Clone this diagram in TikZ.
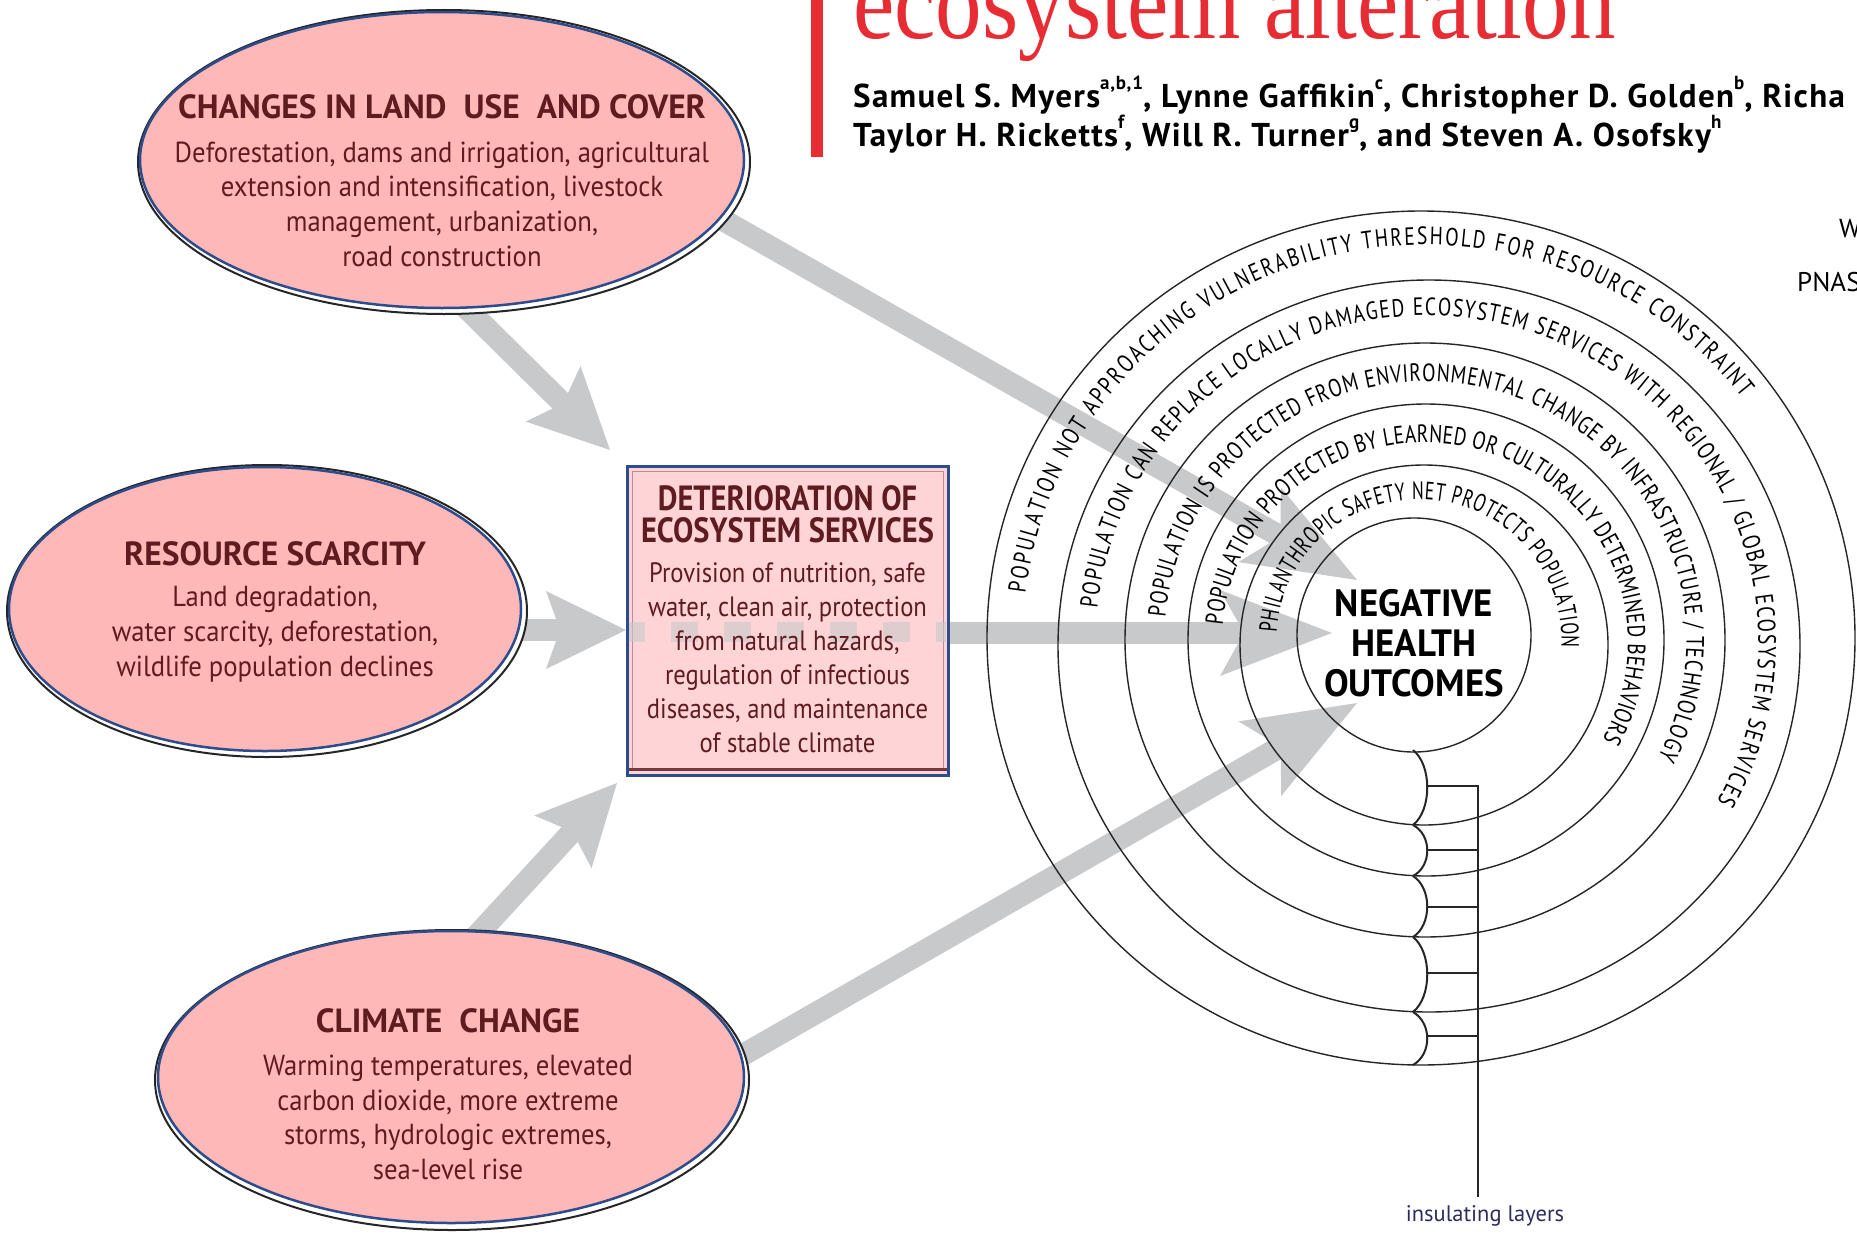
\documentclass[tikz,border=0pt]{standalone}
\usepackage{fontspec}
\setmainfont{PT Sans}
\newfontfamily\ptmain{PT Sans}
\newfontfamily\ptauth[LetterSpace=4]{PT Sans}
\newfontfamily\ptcond[FakeStretch=0.92]{PT Sans}
\newfontfamily\ptboxt[FakeStretch=0.87]{PT Sans}
\newfontfamily\ptboxb[FakeStretch=0.88]{PT Sans}
\newfontfamily\ptring[FakeStretch=0.78]{PT Sans}
\newfontfamily\ptringin[FakeStretch=0.70]{PT Sans}
\newfontfamily\ptbold[FakeStretch=0.97]{PT Sans}
\newfontfamily\libserif[FakeStretch=0.87]{Liberation Serif}
\usetikzlibrary{arrows.meta,decorations.text,shapes.geometric,calc}

\definecolor{pinkfill}{RGB}{255,184,184}
\definecolor{boxfill}{RGB}{255,212,214}
\definecolor{blueline}{RGB}{44,76,140}
\definecolor{maroon}{RGB}{95,28,32}
\definecolor{arrowgray}{RGB}{200,201,203}
\definecolor{pnasred}{RGB}{232,44,52}
\definecolor{navytext}{RGB}{45,45,95}
\definecolor{innerbord}{RGB}{190,140,145}
\definecolor{bottombar}{RGB}{120,55,60}

\newcommand\authsup[1]{\raisebox{0.55em}{\fontsize{19}{19}\selectfont #1}}
\newcommand\ringfont{\ptring\fontsize{25}{25}\selectfont}
\newcommand\ringinfont{\ptringin\fontsize{25}{25}\selectfont}
\newcommand\ttlfont{\ptmain\bfseries\fontsize{33.5}{33.5}\selectfont}
\newcommand\bodyfont{\ptcond\fontsize{29}{34.7}\selectfont}
\newcommand\boxttlfont{\ptboxt\bfseries\fontsize{35}{32}\selectfont}
\newcommand\boxbodyfont{\ptboxb\fontsize{28}{34}\selectfont}
\newcommand\hubfont{\ptbold\bfseries\fontsize{38}{40}\selectfont}
\newcommand\authfont{\ptauth\bfseries\fontsize{33}{33}\selectfont}

\tikzset{
  shadowell/.style={ellipse, draw=black!85, line width=2pt, fill=white, inner sep=0pt},
  mainell/.style={ellipse, draw=blueline, line width=2.5pt, fill=pinkfill, inner sep=0pt},
  ttl/.style={text=maroon, font=\ttlfont, inner sep=0pt},
  bodytxt/.style={text=maroon, font=\bodyfont, align=center, inner sep=0pt},
  ringline/.style={draw=black!85, line width=1.4pt},
  bracketline/.style={draw=black!85, line width=2pt},
  garrow/.style={draw=arrowgray, line width=22pt},
  headS/.style={-{Stealth[length=80pt,width=78pt,inset=14pt,line width=0pt]}},
  headL/.style={-{Stealth[length=112pt,width=86pt,inset=24pt,line width=0pt]}},
  authors/.style={anchor=base west, inner sep=0pt, font=\authfont},
  ringtext/.style={decorate, decoration={text along path, text align={fit to path}, text={|\ringfont|#1}}},
  ringtextin/.style={decorate, decoration={text along path, text align={fit to path}, text={|\ringinfont|#1}}},
}

\begin{document}
\begin{tikzpicture}[x=1pt,y=1pt]
\useasboundingbox (0,0) rectangle (1857,-1239);
\fill[white] (0,0) rectangle (1857,-1239);
\clip (0,0) rectangle (1857,-1239);

% ---------- header ----------
\fill[pnasred] (811,0) rectangle (823,-157);
\node[anchor=base west, inner sep=0pt, text=pnasred, font=\libserif\fontsize{107}{107}\selectfont] (hdr) at (853,-38) {ecosystem alteration};
\node[authors] (au1) at (853,-107.5) {Samuel S. Myers\authsup{a,b,1}, Lynne Gaffikin\authsup{c}, Christopher D. Golden\authsup{b}, Richa};
\node[authors] (au2) at (853,-146.5) {Taylor H. Ricketts\authsup{f}, Will R. Turner\authsup{g}, and Steven A. Osofsky\authsup{h}};
\node[anchor=west, inner sep=0pt, font=\ptmain\fontsize{26}{26}\selectfont] (wlet) at (1839,-229) {W};
\node[anchor=west, inner sep=0pt, font=\ptmain\fontsize{27}{27}\selectfont] (pnas) at (1797,-282) {PNAS};

% ---------- box ----------
\node[draw=blueline, line width=3pt, fill=boxfill, minimum width=321pt, minimum height=309pt, inner sep=0pt] (box) at (787.5,-620.5) {};
\node[draw=innerbord, line width=1pt, minimum width=311pt, minimum height=299pt, inner sep=0pt] (boxin) at (787.5,-620.5) {};
\draw[bottombar, line width=3pt] ($(box.south west)+(3,7)$) -- ($(box.south east)+(-3,7)$);
\coordinate (dl) at (629,-632);
\coordinate (dr) at (946,-632);
\draw[arrowgray, opacity=0.6, line width=20pt, dash pattern=on 27pt off 26pt, dash phase=11pt] (dl) -- (dr);
\node[text=maroon, font=\boxttlfont, align=center, inner sep=0pt] (boxh) at (787.5,-514) {DETERIORATION OF\\ECOSYSTEM SERVICES};
\node[text=maroon, font=\boxbodyfont, align=center, inner sep=0pt] (boxb) at (787.5,-657.5) {Provision of nutrition, safe\\water, clean air, protection\\from natural hazards,\\regulation of infectious\\diseases, and maintenance\\of stable climate};

% ---------- arrows ----------
\coordinate (a1s) at (446,-288);  \coordinate (a1t) at (610,-450);
\coordinate (a2s) at (500,-630);  \coordinate (a2t) at (626,-630);
\coordinate (a3s) at (468,-945);  \coordinate (a3t) at (617,-783);
\coordinate (a4s) at (700,-207);  \coordinate (a4t) at (1357,-580);
\coordinate (a5t) at (1332,-633);
\coordinate (a6s) at (720,-1068); \coordinate (a6t) at (1357,-703);
\draw[garrow, headS] (a1s) -- (a1t);
\draw[garrow, headS] (a2s) -- (a2t);
\draw[garrow, headS] (a3s) -- (a3t);
\draw[garrow, headL] (a4s) -- (a4t);
\draw[garrow, headL] (box.east |- a5t) -- (a5t);
\draw[garrow, headL] (a6s) -- (a6t);

% ---------- ellipses ----------
\node[shadowell, minimum width=612pt, minimum height=304pt] (e1s) at (444,-162) {};
\node[mainell, minimum width=604pt, minimum height=296pt] (e1) at (442,-160) {};
\node[shadowell, minimum width=520pt, minimum height=292pt] (e2s) at (267,-611) {};
\node[mainell, minimum width=512pt, minimum height=284pt] (e2) at (265,-609) {};
\node[shadowell, minimum width=594pt, minimum height=300pt] (e3s) at (452,-1080) {};
\node[mainell, minimum width=586pt, minimum height=292pt] (e3) at (451,-1077) {};

\node[ttl] (e1h) at (442,-107) {CHANGES IN LAND\ \ USE\ \ AND COVER};
\node[bodytxt] (e1b) at (442,-204) {Deforestation, dams and irrigation, agricultural\\extension and intensification, livestock\\management, urbanization,\\road construction};
\node[ttl] (e2h) at (275,-554) {RESOURCE SCARCITY};
\node[bodytxt] (e2b) at (275,-634) {Land degradation,\\water scarcity, deforestation,\\wildlife population declines};
\node[ttl] (e3h) at (448,-1021) {CLIMATE\ \ CHANGE};
\node[bodytxt] (e3b) at (448,-1117.5) {Warming temperatures, elevated\\carbon dioxide, more extreme\\storms, hydrologic extremes,\\sea-level rise};

% ---------- rings ----------
\node[circle, ringline, minimum size=234pt, inner sep=0pt] (hub) at (1414,-635) {};
\draw[ringline] (1424,-645) ellipse [x radius=184pt, y radius=180pt];
\draw[ringline] (1426,-640) ellipse [x radius=238pt, y radius=236pt];
\draw[ringline] (1425,-640) ellipse [x radius=300pt, y radius=297pt];
\draw[ringline] (1429,-646) ellipse [x radius=371pt, y radius=366pt];
\draw[ringline] (1421,-638) ellipse [x radius=434pt, y radius=427pt];

\node[font=\hubfont, align=center, inner sep=0pt] (hubt) at (1414,-643) {NEGATIVE\\HEALTH\\OUTCOMES};

\path[ringtextin={PHILANTHROPIC SAFETY NET PROTECTS POPULATION}]
  (1419,-640) ++(177:142.5pt and 140.5pt) arc[start angle=177, end angle=-3, x radius=142.5pt, y radius=140.5pt];
\path[ringtext={POPULATION PROTECTED BY LEARNED OR CULTURALLY DETERMINED BEHAVIORS}]
  (1425,-642.5) ++(175:203pt and 200pt) arc[start angle=175, end angle=-29, x radius=203pt, y radius=200pt];
\path[ringtext={POPULATION IS PROTECTED FROM ENVIRONMENTAL CHANGE BY INFRASTRUCTURE / TECHNOLOGY}]
  (1425.5,-640) ++(175:261pt and 258.5pt) arc[start angle=175, end angle=-27, x radius=261pt, y radius=258.5pt];
\path[ringtext={POPULATION CAN REPLACE LOCALLY DAMAGED ECOSYSTEM SERVICES WITH REGIONAL / GLOBAL ECOSYSTEM SERVICES}]
  (1427,-643) ++(174:331.5pt and 327.5pt) arc[start angle=174, end angle=-29, x radius=331.5pt, y radius=327.5pt];
\path[ringtext={POPULATION NOT APPROACHING VULNERABILITY THRESHOLD FOR RESOURCE CONSTRAINT}]
  (1425,-642) ++(173:402.5pt and 397pt) arc[start angle=173, end angle=38, x radius=402.5pt, y radius=397pt];

% ---------- insulating layers ----------
\draw[bracketline] (1413,-750) .. controls (1432,-765) and (1432,-810) .. (1413,-825);
\draw[bracketline] (1413,-825) .. controls (1432,-835) and (1432,-866) .. (1413,-876);
\draw[bracketline] (1413,-876) .. controls (1432,-888) and (1432,-925) .. (1413,-937);
\draw[bracketline] (1413,-937) .. controls (1432,-952) and (1432,-997) .. (1413,-1012);
\draw[bracketline] (1413,-1012) .. controls (1432,-1023) and (1432,-1054) .. (1413,-1065);
\coordinate (vtop) at (1478,-786);
\coordinate (vbot) at (1478,-1197);
\draw[bracketline] (1427,-786) -- (vtop) -- (vbot);
\draw[bracketline] (1427,-850) -- (1478,-850);
\draw[bracketline] (1427,-907) -- (1478,-907);
\draw[bracketline] (1427,-973) -- (1478,-973);
\draw[bracketline] (1427,-1036) -- (1478,-1036);
\node[text=navytext, font=\ptmain\fontsize{22.5}{22.5}\selectfont, inner sep=0pt] (insl) at (1485,-1216) {insulating layers};
\end{tikzpicture}
\end{document}
